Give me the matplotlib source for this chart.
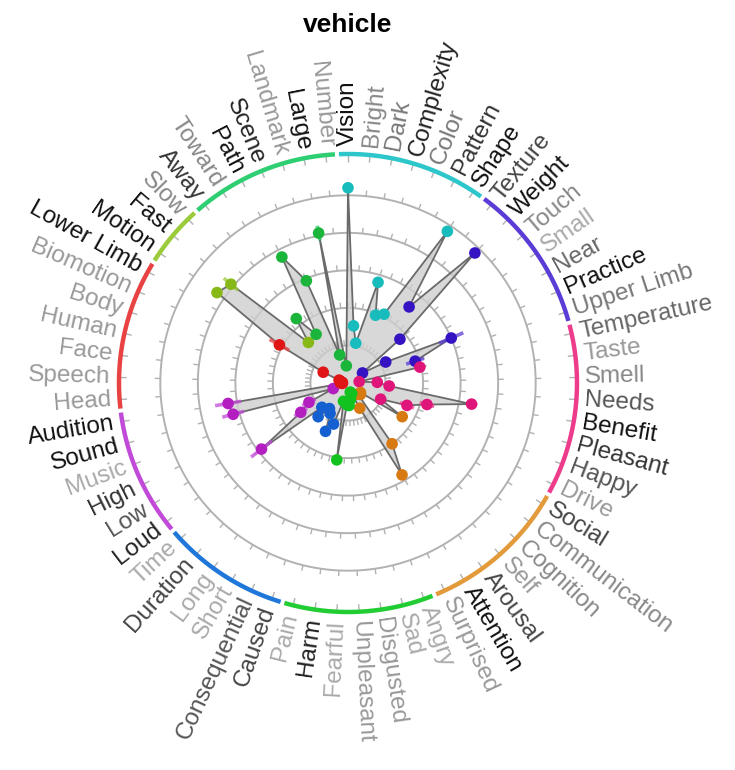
import numpy as np
import matplotlib
matplotlib.use('Agg')
import matplotlib.pyplot as plt
from matplotlib.colors import to_rgba

title = 'vehicle'

attributes = [
    'Vision', 'Bright', 'Dark', 'Complexity', 'Color', 'Pattern', 'Shape',
    'Texture', 'Weight', 'Touch', 'Small', 'Near', 'Practice', 'Upper Limb',
    'Temperature', 'Taste', 'Smell', 'Needs', 'Benefit', 'Pleasant', 'Happy', 'Drive',
    'Social', 'Communication', 'Cognition', 'Self', 'Arousal', 'Attention', 'Surprised',
    'Angry', 'Sad', 'Disgusted', 'Unpleasant', 'Fearful', 'Harm', 'Pain',
    'Caused', 'Consequential', 'Short', 'Long', 'Duration', 'Time',
    'Loud', 'Low', 'High', 'Music', 'Sound', 'Audition',
    'Head', 'Speech', 'Face', 'Human', 'Body', 'Biomotion', 'Lower Limb',
    'Motion', 'Fast', 'Slow',
    'Away', 'Toward', 'Path', 'Scene', 'Landmark', 'Large', 'Number',
]

values = [
    5.20, 1.53, 1.08, 2.80, 1.95, 2.07, 4.83,
    2.60, 4.84, 1.81, 0.47, 1.15, 3.00, 1.88,
    1.96, 0.30, 0.78, 1.10, 3.34, 2.18, 1.68, 0.97,
    1.70, 0.42, 0.45, 0.40, 2.00, 2.84, 0.74,
    0.30, 0.25, 0.45, 0.60, 0.58, 2.07, 0.50,
    1.16, 1.42, 0.94, 0.84, 1.20, 0.95,
    2.90, 1.48, 1.16, 0.42, 3.17, 3.24,
    0.15, 0.20, 0.15, 0.20, 0.25, 0.72, 2.09,
    4.24, 4.08, 1.51,
    2.20, 1.55, 3.79, 2.94, 0.78, 4.07, 0.46,
]

errors = [
    0.05, 0.10, 0.05, 0.05, 0.15, 0.10, 0.05,
    0.05, 0.15, 0.05, 0.05, 0.15, 0.35, 0.25,
    0.15, 0.10, 0.10, 0.15, 0.15, 0.20, 0.20, 0.10,
    0.05, 0.05, 0.05, 0.05, 0.15, 0.10, 0.10,
    0.05, 0.05, 0.05, 0.05, 0.05, 0.05, 0.05,
    0.10, 0.10, 0.10, 0.10, 0.10, 0.10,
    0.35, 0.20, 0.20, 0.10, 0.30, 0.35,
    0.05, 0.05, 0.05, 0.05, 0.05, 0.05, 0.30,
    0.10, 0.25, 0.10,
    0.10, 0.05, 0.05, 0.15, 0.05, 0.20, 0.05,
]

label_colors = [
    '#111111', '#888888', '#777777', '#222222', '#777777', '#333333', '#111111',
    '#444444', '#111111', '#888888', '#aaaaaa', '#666666', '#111111', '#777777',
    '#666666', '#999999', '#888888', '#555555', '#111111', '#333333', '#555555', '#999999',
    '#444444', '#888888', '#888888', '#999999', '#444444', '#111111', '#999999',
    '#aaaaaa', '#aaaaaa', '#999999', '#999999', '#aaaaaa', '#222222', '#aaaaaa',
    '#444444', '#555555', '#aaaaaa', '#aaaaaa', '#444444', '#aaaaaa',
    '#222222', '#555555', '#333333', '#aaaaaa', '#111111', '#111111',
    '#999999', '#999999', '#999999', '#999999', '#999999', '#999999', '#111111',
    '#111111', '#111111', '#888888',
    '#333333', '#888888', '#111111', '#222222', '#999999', '#111111', '#999999',
]

domain_sizes = [7, 7, 8, 7, 7, 6, 6, 7, 3, 7]
arc_colors = ['#2cc6cb', '#5b3cd6', '#ee3c8c', '#e39a3b', '#22cc33',
              '#1f77d9', '#c24ad8', '#e94242', '#9bcb3a', '#2ecf72']
dot_colors = ['#19bcbc', '#3512c2', '#e0157a', '#d77a12', '#12c21e',
              '#1560d0', '#b31ec0', '#e01616', '#86b817', '#1cb53c']

plt.rcParams['font.family'] = ['Liberation Sans', 'DejaVu Sans']

fig = plt.figure(figsize=(7.35, 7.7), dpi=100)
ax = fig.add_axes([0.1619, 0.2052, 0.6231, 0.5948], projection='polar')
ax.set_theta_zero_location('N')
ax.set_theta_direction(-1)
R_ring = 6.1
ax.set_ylim(0, R_ring)
ax.axis('off')

n = len(attributes)
step = 2 * np.pi / n
theta = np.arange(n) * step
vals = np.array(values)
errs = np.array(errors)

# per-point domain colours
pt_dot = []
pt_bar = []
for d, size in enumerate(domain_sizes):
    for _ in range(size):
        pt_dot.append(dot_colors[d])
        c = to_rgba(arc_colors[d])
        pt_bar.append((c[0], c[1], c[2], 0.75))

# grid circles with ticks
tt = np.linspace(0, 2 * np.pi, 400)
grid_col = '#b2b2b2'
for r in [1, 2, 3, 4, 5]:
    ax.plot(tt, np.full_like(tt, r), color=grid_col, lw=1.4, zorder=1)
    ax.vlines(theta, r, r + 0.15, color=grid_col, lw=1.0, zorder=1)

# outer ring ticks
ax.vlines(theta, R_ring - 0.2, R_ring, color=grid_col, lw=1.0, zorder=1)

# domain arcs
gap = np.deg2rad(0.5)
start = 0
for d, size in enumerate(domain_sizes):
    t0 = (start - 0.5) * step + gap
    t1 = (start + size - 0.5) * step - gap
    ta = np.linspace(t0, t1, 80)
    ax.plot(ta, np.full_like(ta, R_ring), color=arc_colors[d], lw=3.2,
            solid_capstyle='butt', clip_on=False, zorder=3)
    start += size

# polygon
tc = np.r_[theta, theta[0]]
vc = np.r_[vals, vals[0]]
ax.fill(tc, vc, facecolor='#cfcfcf', edgecolor='none', alpha=0.8, zorder=2)
ax.plot(tc, vc, color='#6a6a6a', lw=1.3, zorder=3)

# error bars and dots
ax.vlines(theta, vals - errs, vals + errs, colors=pt_bar, lw=2.6, zorder=4)
ax.scatter(theta, vals, s=70, c=pt_dot, edgecolors='none', zorder=5)

# labels
R_lab = 6.32
for i, name in enumerate(attributes):
    deg = np.rad2deg(theta[i])
    if deg <= 180:
        rot = 90 - deg
        ha = 'left'
    else:
        rot = 270 - deg
        ha = 'right'
    ax.text(theta[i], R_lab, name, rotation=rot, rotation_mode='anchor',
            ha=ha, va='center', fontsize=17.5, color=label_colors[i],
            clip_on=False)

fig.text(0.473, 0.967, title, ha='center', va='center', fontsize=19,
         fontweight='bold')

fig.savefig('out.png', dpi=100)
